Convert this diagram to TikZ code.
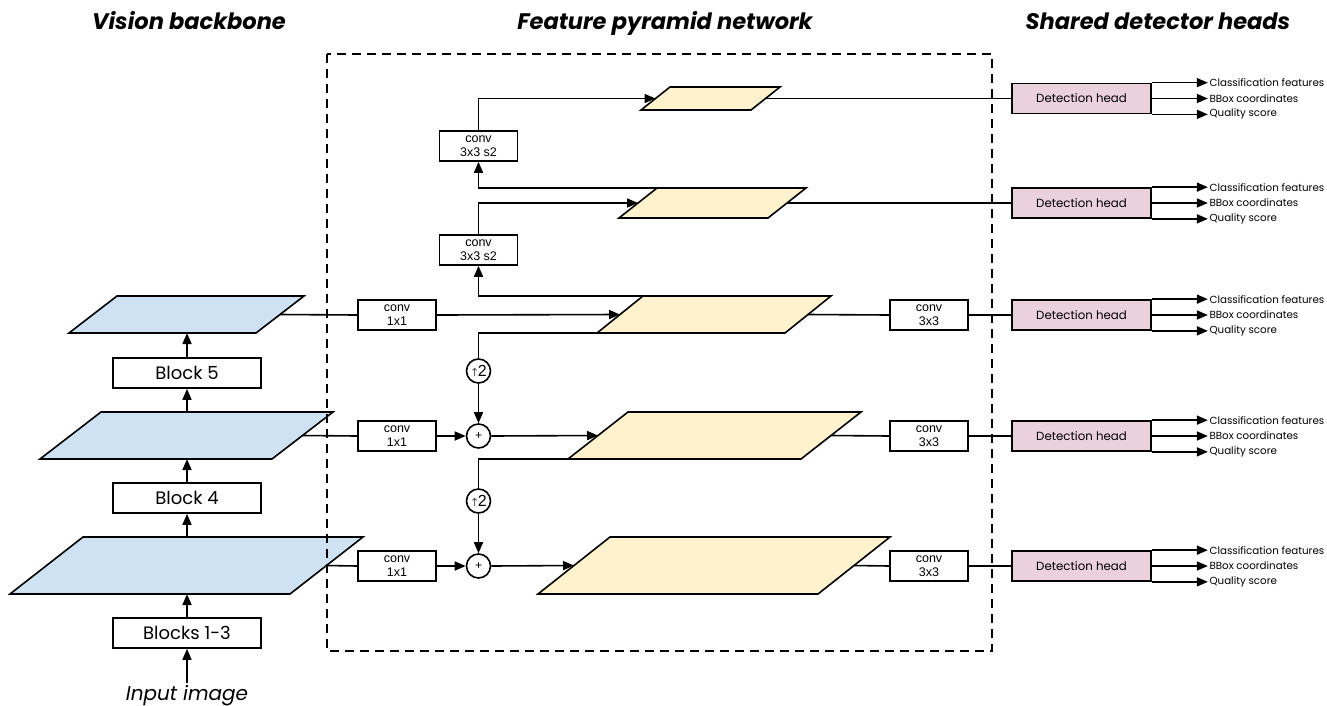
\documentclass[tikz,border=0pt]{standalone}
\usepackage{fontspec}
\setmainfont{Poppins}
\newfontfamily\arialf{Liberation Sans}
\newfontfamily\symf{DejaVu Sans}
\usetikzlibrary{arrows.meta,calc}
\definecolor{bbblue}{HTML}{CFE2F3}
\definecolor{fpnyel}{HTML}{FFF2CC}
\definecolor{headpink}{HTML}{EAD1DC}
\tikzset{
  para/.style={draw=black, line width=1.6pt, line join=miter},
  blk/.style={draw, line width=1.6pt, minimum width=148pt, minimum height=30pt, inner sep=0pt, font=\fontsize{18}{20}\selectfont},
  convbox/.style={draw, fill=white, line width=1.6pt, minimum width=78pt, minimum height=30pt, inner sep=0pt, align=center, font=\arialf\fontsize{12.5}{13.5}\selectfont},
  headbox/.style={draw, line width=1.7pt, fill=headpink, minimum width=139pt, minimum height=30pt, inner sep=0pt, font=\fontsize{11.8}{14}\selectfont},
  opc/.style={circle, draw, fill=white, line width=1.6pt, minimum size=24pt, inner sep=0pt},
  ln/.style={line width=1.6pt},
  arr/.style={line width=1.6pt, -{Triangle[length=11pt,width=9pt]}},
  title/.style={font=\fontsize{22.5}{26}\selectfont\bfseries\itshape, anchor=base},
  outl/.style={font=\fontsize{10.3}{12}\selectfont, anchor=west, inner sep=1.5pt},
}
% name, BLx, TLx, width, topy, boty, fill
\newcommand\parag[7]{%
  \draw[para, fill=#7] (#2,#6) -- (#3,#5) -- ({#3+#4},#5) -- ({#2+#4},#6) -- cycle;
  \coordinate (#1-w) at ({(#2+#3)/2},{(#5+#6)/2});
  \coordinate (#1-e) at ({(#2+#3)/2+#4},{(#5+#6)/2});
  \coordinate (#1-tl) at (#3,#5);
  \coordinate (#1-bl) at (#2,#6);
  \coordinate (#1-n) at ({(#2+#3+#4)/2},#5);
  \coordinate (#1-s) at ({(#2+#3+#4)/2},#6);
}
\begin{document}
\begin{tikzpicture}[x=1pt,y=-1pt]
\useasboundingbox (0,0) rectangle (1327,705);

% titles
\node[title] (t1) at (189,29) {Vision backbone};
\node[title] (t2) at (665,29) {Feature pyramid network};
\node[title] (t3) at (1158,29) {Shared detector heads};

% backbone
\parag{bP5}{69}{117}{187}{296}{333}{bbblue}
\parag{bP4}{40}{101}{232}{412}{459}{bbblue}
\parag{bP3}{10}{83}{280}{537}{594}{bbblue}
\node[blk] (b5) at (187,373) {Block 5};
\node[blk] (b4) at (187,498) {Block 4};
\node[blk] (b13) at (187,633) {Blocks 1-3};
\node[font=\fontsize{20}{22}\selectfont\itshape, anchor=base, inner sep=2pt] (inp) at (187,700) {Input image};

\draw[arr] (inp.north) -- (b13.south);
\draw[arr] (b13.north) -- (b13.north |- bP3-s);
\draw[arr] (b4.south |- bP3-n) -- (b4.south);
\draw[arr] (b4.north) -- (b4.north |- bP4-s);
\draw[arr] (b5.south |- bP4-n) -- (b5.south);
\draw[arr] (b5.north) -- (b5.north |- bP5-s);

% FPN feature maps
\parag{P6}{641}{670}{110}{87}{110}{fpnyel}
\parag{P7}{619}{657}{149}{188}{218}{fpnyel}
\parag{fP5}{597}{643}{188}{296}{333}{fpnyel}
\parag{fP4}{568}{628}{233}{412}{459}{fpnyel}
\parag{fP3}{538}{610}{280}{537}{594}{fpnyel}

% lateral convs
\node[convbox] (c5) at (397,315) {conv\\1x1};
\node[convbox] (c4) at (397,436) {conv\\1x1};
\node[convbox] (c3) at (397,566) {conv\\1x1};
\node[opc] (p4) at (478.5,436) {};
\node[opc] (p3) at (478.5,566) {};
\node[font=\arialf\fontsize{12}{12}\selectfont] at (p4) {+};
\node[font=\arialf\fontsize{12}{12}\selectfont] at (p3) {+};
\node[opc] (u5) at (478.5,371) {};
\node[opc] (u4) at (478.5,501) {};
\node[inner sep=0pt] at (u5) {{\symf\color{black!70}\fontsize{11}{11}\selectfont\raisebox{0.5pt}{↑}}\kern-1.5pt{\arialf\fontsize{16}{16}\selectfont 2}};
\node[inner sep=0pt] at (u4) {{\symf\color{black!70}\fontsize{11}{11}\selectfont\raisebox{0.5pt}{↑}}\kern-1.5pt{\arialf\fontsize{16}{16}\selectfont 2}};

\node[convbox] (sa) at (478.5,146) {conv\\3x3 s2};
\node[convbox] (sb) at (478.5,250) {conv\\3x3 s2};

\node[convbox] (d5) at (929,315) {conv\\3x3};
\node[convbox] (d4) at (929,436) {conv\\3x3};
\node[convbox] (d3) at (929,566) {conv\\3x3};

% backbone -> lateral
\draw[ln] (bP5-e) -- (c5.west);
\draw[ln] (bP4-e) -- (c4.west);
\draw[ln] (bP3-e) -- (c3.west);
\draw[arr] (c5.east) -- (fP5-w);
\draw[arr] (c4.east) -- (p4.west);
\draw[arr] (c3.east) -- (p3.west);
\draw[arr] (p4.east) -- (fP4-w);
\draw[arr] (p3.east) -- (fP3-w);

% top-down
\draw[ln] (fP5-bl) -| (u5.north);
\draw[arr] (u5.south) -- (p4.north);
\draw[ln] (fP4-bl) -| (u4.north);
\draw[arr] (u4.south) -- (p3.north);

% bottom-up extra levels
\draw[arr] (fP5-tl) -| (sb.south);
\draw[arr] (sb.north) |- (P7-w);
\draw[arr] (P7-tl) -| (sa.south);
\draw[arr] (sa.north) |- (P6-w);

% heads
\node[headbox] (h1) at (1081.5,98.5) {Detection head};
\node[headbox] (h2) at (1081.5,203) {Detection head};
\node[headbox] (h3) at (1081.5,315) {Detection head};
\node[headbox] (h4) at (1081.5,436) {Detection head};
\node[headbox] (h5) at (1081.5,566) {Detection head};

\draw[ln] (P6-e) -- (h1.west);
\draw[ln] (P7-e) -- (h2.west);
\draw[ln] (fP5-e) -- (d5.west);
\draw[ln] (fP4-e) -- (d4.west);
\draw[ln] (fP3-e) -- (d3.west);
\draw[ln] (d5.east) -- (h3.west);
\draw[ln] (d4.east) -- (h4.west);
\draw[ln] (d3.east) -- (h5.west);

\foreach \h in {h1,h2,h3,h4,h5} {
  \node[outl] (\h-a) at ($(\h.north east)+(56,0)$) {Classification features};
  \node[outl] (\h-b) at ($(\h.east)+(56,0)$) {BBox coordinates};
  \node[outl] (\h-c) at ($(\h.south east)+(56,0)$) {Quality score};
  \draw[arr] (\h.north east) -- (\h-a.west);
  \draw[arr] (\h.east) -- (\h-b.west);
  \draw[arr] (\h.south east) -- (\h-c.west);
}

% FPN frame
\draw[line width=1.6pt, dash pattern=on 9pt off 6pt] (327,54) rectangle (992,651);
\end{tikzpicture}
\end{document}
